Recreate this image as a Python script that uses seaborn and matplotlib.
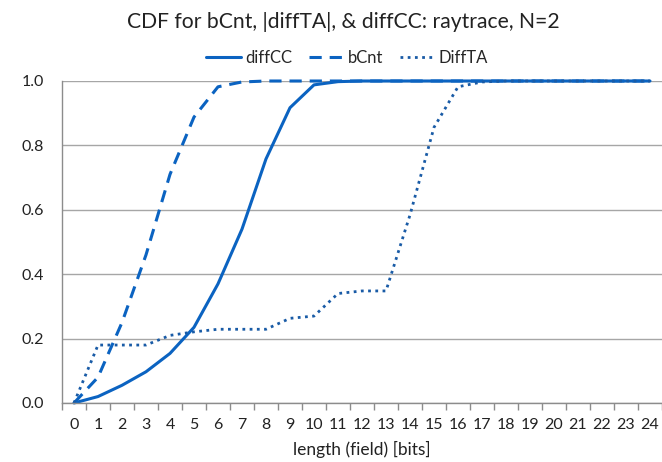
import pandas as pd
import numpy as np
import matplotlib
matplotlib.use('Agg')
import matplotlib.pyplot as plt
import seaborn as sb

# bit lengths on the x axis
lengths = list(range(25))

# CDF values
diffCC = [0.0, 0.02, 0.055, 0.097, 0.154, 0.235, 0.37, 0.54, 0.758, 0.917, 0.988, 0.998,
          1.0, 1.0, 1.0, 1.0, 1.0, 1.0, 1.0, 1.0, 1.0, 1.0, 1.0, 1.0, 1.0]
bCnt = [0.0, 0.08, 0.25, 0.46, 0.71, 0.888, 0.982, 0.997, 1.0, 1.0, 1.0, 1.0,
        1.0, 1.0, 1.0, 1.0, 1.0, 1.0, 1.0, 1.0, 1.0, 1.0, 1.0, 1.0, 1.0]
DiffTA = [0.0, 0.18, 0.18, 0.18, 0.21, 0.221, 0.229, 0.229, 0.229, 0.263, 0.27, 0.34,
          0.348, 0.348, 0.584, 0.856, 0.982, 0.997, 1.0, 1.0, 1.0, 1.0, 1.0, 1.0, 1.0]

blue = '#0b63c1'
dark_blue = '#195ba6'

cdfFrame = pd.DataFrame({'length': lengths, 'diffCC': diffCC, 'bCnt': bCnt, 'DiffTA': DiffTA})

sb.set_style('white')
plt.rcParams['font.family'] = ['Lato', 'DejaVu Sans']

fig = plt.figure(figsize=(6.62, 4.62), dpi=100)
ax = fig.add_axes([62 / 662, 1 - 403 / 462, 600 / 662, 322 / 462])

sb.lineplot(data=cdfFrame, x='length', y='diffCC', ax=ax, color=blue, linewidth=2.2,
            label='diffCC', clip_on=False)
sb.lineplot(data=cdfFrame, x='length', y='bCnt', ax=ax, color=blue, linewidth=2.2,
            linestyle=(0, (4, 2.6)), label='bCnt', clip_on=False)
sb.lineplot(data=cdfFrame, x='length', y='DiffTA', ax=ax, color=dark_blue, linewidth=2.0,
            linestyle=(0, (1, 1.6)), label='DiffTA', clip_on=False)

ax.set_xlim(-0.5, 24.5)
ax.set_ylim(0, 1)
ax.set_xticks(lengths)
ax.set_xticklabels([str(v) for v in lengths])
ax.set_xticks(np.arange(-0.5, 25, 1), minor=True)
ax.set_yticks(np.arange(0, 1.01, 0.2))
ax.set_yticklabels(['%.1f' % v for v in np.arange(0, 1.01, 0.2)])
ax.tick_params(axis='x', which='major', length=0, pad=11, labelsize=11.5, colors='#222222')
ax.tick_params(axis='x', which='minor', length=5, width=1, color='#8c8c8c', bottom=True)
ax.tick_params(axis='y', length=0, pad=13, labelsize=11.5, colors='#222222')

ax.grid(axis='y', color='#a6a6a6', linewidth=1)
ax.set_axisbelow(True)
for side in ['top', 'right']:
    ax.spines[side].set_visible(False)
for side in ['left', 'bottom']:
    ax.spines[side].set_color('#8c8c8c')
    ax.spines[side].set_linewidth(1)

ax.set_xlabel('length (field) [bits]', fontsize=12.5, labelpad=6, color='#222222')
ax.set_ylabel('')

fig.text(343 / 662, 1 - 28 / 462, 'CDF for bCnt, |diffTA|, & diffCC: raytrace, N=2',
         ha='center', va='baseline', fontsize=15.2, color='#222222')

ax.get_legend().remove()
fig.legend(*ax.get_legend_handles_labels(), loc='center', ncol=3, frameon=False,
           bbox_to_anchor=(347 / 662, 1 - 58 / 462), fontsize=12, handlelength=2.1,
           handletextpad=0.25, columnspacing=1.0)

fig.savefig('out.png', dpi=100)
